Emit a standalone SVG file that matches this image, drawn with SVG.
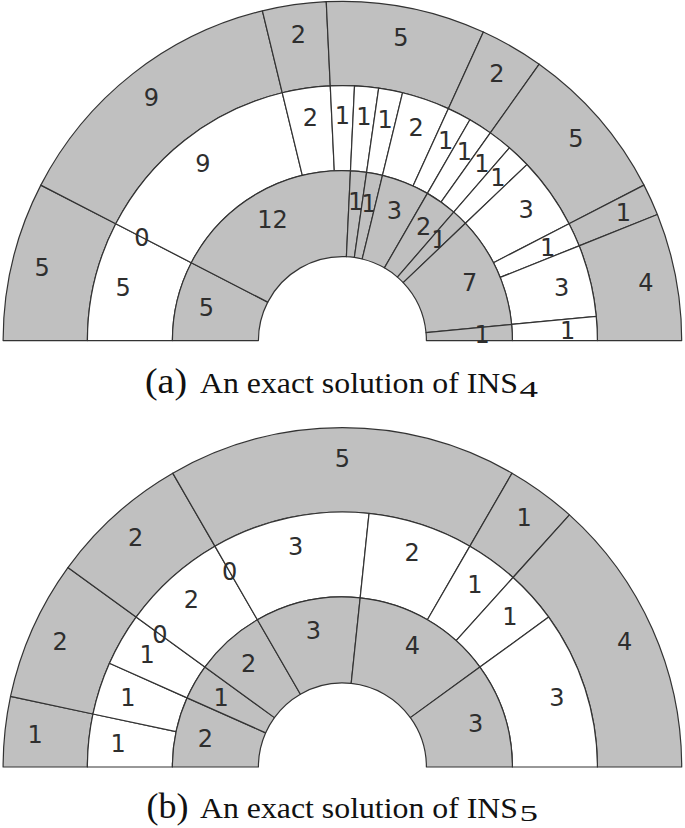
<svg xmlns="http://www.w3.org/2000/svg" width="685" height="828" viewBox="0 0 685 828">
<style>
.g{fill:#c0c0c0;stroke:#333;stroke-width:1.2;stroke-linejoin:round}
.w{fill:#fff;stroke:#333;stroke-width:1.2;stroke-linejoin:round}
.t{font-family:"DejaVu Sans",sans-serif;font-size:24px;fill:#2e2e2e;text-anchor:middle}
.cap{font-family:"Liberation Serif","Times New Roman",serif;fill:#111}
</style>
<rect width="685" height="828" fill="#fff"/>
<g id="diagram-a">
<g id="a-outer">
<g id="a-o1"><path class="g" d="M87.4,340.6 L3.1,340.6 A339.3,339.3 0 0 1 40.82,185.12 L115.75,223.75 A255,255 0 0 0 87.4,340.6Z"/><text class="t" y="8.7" transform="translate(342.4 340.6) rotate(13.636) translate(-309 0) rotate(-13.636)">5</text></g>
<g id="a-o2"><path class="g" d="M115.75,223.75 L40.82,185.12 A339.3,339.3 0 0 1 262.41,10.86 L282.28,92.79 A255,255 0 0 0 115.75,223.75Z"/><text class="t" y="8.7" transform="translate(342.4 340.6) rotate(51.818) translate(-309 0) rotate(-51.818)">9</text></g>
<g id="a-o3"><path class="g" d="M282.28,92.79 L262.41,10.86 A339.3,339.3 0 0 1 326.26,1.68 L330.27,85.89 A255,255 0 0 0 282.28,92.79Z"/><text class="t" y="8.7" transform="translate(342.4 340.6) rotate(81.818) translate(-309 0) rotate(-81.818)">2</text></g>
<g id="a-o4"><path class="g" d="M330.27,85.89 L326.26,1.68 A339.3,339.3 0 0 1 483.35,31.96 L448.33,108.64 A255,255 0 0 0 330.27,85.89Z"/><text class="t" y="8.7" transform="translate(342.4 340.6) rotate(100.909) translate(-309 0) rotate(-100.909)">5</text></g>
<g id="a-o5"><path class="g" d="M448.33,108.64 L483.35,31.96 A339.3,339.3 0 0 1 539.21,64.21 L490.32,132.88 A255,255 0 0 0 448.33,108.64Z"/><text class="t" y="8.7" transform="translate(342.4 340.6) rotate(120) translate(-309 0) rotate(-120)">2</text></g>
<g id="a-o6"><path class="g" d="M490.32,132.88 L539.21,64.21 A339.3,339.3 0 0 1 643.98,185.12 L569.05,223.75 A255,255 0 0 0 490.32,132.88Z"/><text class="t" y="8.7" transform="translate(342.4 340.6) rotate(139.091) translate(-309 0) rotate(-139.091)">5</text></g>
<g id="a-o7"><path class="g" d="M569.05,223.75 L643.98,185.12 A339.3,339.3 0 0 1 657.40,214.50 L579.13,245.83 A255,255 0 0 0 569.05,223.75Z"/><text class="t" y="8.7" transform="translate(342.4 340.6) rotate(155.455) translate(-309 0) rotate(-155.455)">1</text></g>
<g id="a-o8"><path class="g" d="M579.13,245.83 L657.40,214.50 A339.3,339.3 0 0 1 681.7,340.6 L597.4,340.6 A255,255 0 0 0 579.13,245.83Z"/><text class="t" y="8.7" transform="translate(342.4 340.6) rotate(169.091) translate(-309 0) rotate(-169.091)">4</text></g>
</g>
<g id="a-middle">
<g id="a-m1"><path class="w" d="M172.4,340.6 L87.4,340.6 A255,255 0 0 1 115.75,223.75 L191.30,262.70 A170,170 0 0 0 172.4,340.6Z"/><text class="t" y="8.7" transform="translate(342.4 340.6) rotate(13.636) translate(-225.5 0) rotate(-13.636)">5</text></g>
<g id="a-m3"><path class="w" d="M191.30,262.70 L115.75,223.75 A255,255 0 0 1 282.28,92.79 L302.32,175.39 A170,170 0 0 0 191.30,262.70Z"/><text class="t" y="8.7" transform="translate(342.4 340.6) rotate(51.818) translate(-225.5 0) rotate(-51.818)">9</text></g>
<g id="a-m4"><path class="w" d="M302.32,175.39 L282.28,92.79 A255,255 0 0 1 330.27,85.89 L334.31,170.79 A170,170 0 0 0 302.32,175.39Z"/><text class="t" y="8.7" transform="translate(342.4 340.6) rotate(81.818) translate(-225.5 0) rotate(-81.818)">2</text></g>
<g id="a-m5"><path class="w" d="M334.31,170.79 L330.27,85.89 A255,255 0 0 1 354.53,85.89 L350.49,170.79 A170,170 0 0 0 334.31,170.79Z"/><text class="t" y="8.7" transform="translate(342.4 340.6) rotate(90) translate(-225.5 0) rotate(-90)">1</text></g>
<g id="a-m6"><path class="w" d="M350.49,170.79 L354.53,85.89 A255,255 0 0 1 378.69,88.20 L366.59,172.33 A170,170 0 0 0 350.49,170.79Z"/><text class="t" y="8.7" transform="translate(342.4 340.6) rotate(95.455) translate(-225.5 0) rotate(-95.455)">1</text></g>
<g id="a-m7"><path class="w" d="M366.59,172.33 L378.69,88.20 A255,255 0 0 1 402.52,92.79 L382.48,175.39 A170,170 0 0 0 366.59,172.33Z"/><text class="t" y="8.7" transform="translate(342.4 340.6) rotate(100.909) translate(-225.5 0) rotate(-100.909)">1</text></g>
<g id="a-m8"><path class="w" d="M382.48,175.39 L402.52,92.79 A255,255 0 0 1 448.33,108.64 L413.02,185.96 A170,170 0 0 0 382.48,175.39Z"/><text class="t" y="8.7" transform="translate(342.4 340.6) rotate(109.091) translate(-225.5 0) rotate(-109.091)">2</text></g>
<g id="a-m9"><path class="w" d="M413.02,185.96 L448.33,108.64 A255,255 0 0 1 469.90,119.76 L427.40,193.37 A170,170 0 0 0 413.02,185.96Z"/><text class="t" y="8.7" transform="translate(342.4 340.6) rotate(117.273) translate(-225.5 0) rotate(-117.273)">1</text></g>
<g id="a-m10"><path class="w" d="M427.40,193.37 L469.90,119.76 A255,255 0 0 1 490.32,132.88 L441.01,202.12 A170,170 0 0 0 427.40,193.37Z"/><text class="t" y="8.7" transform="translate(342.4 340.6) rotate(122.727) translate(-225.5 0) rotate(-122.727)">1</text></g>
<g id="a-m11"><path class="w" d="M441.01,202.12 L490.32,132.88 A255,255 0 0 1 509.39,147.88 L453.73,212.12 A170,170 0 0 0 441.01,202.12Z"/><text class="t" y="8.7" transform="translate(342.4 340.6) rotate(128.182) translate(-225.5 0) rotate(-128.182)">1</text></g>
<g id="a-m12"><path class="w" d="M453.73,212.12 L509.39,147.88 A255,255 0 0 1 526.95,164.63 L465.43,223.29 A170,170 0 0 0 453.73,212.12Z"/><text class="t" y="8.7" transform="translate(342.4 340.6) rotate(133.636) translate(-225.5 0) rotate(-133.636)">1</text></g>
<g id="a-m13"><path class="w" d="M465.43,223.29 L526.95,164.63 A255,255 0 0 1 569.05,223.75 L493.50,262.70 A170,170 0 0 0 465.43,223.29Z"/><text class="t" y="8.7" transform="translate(342.4 340.6) rotate(144.545) translate(-225.5 0) rotate(-144.545)">3</text></g>
<g id="a-m14"><path class="w" d="M493.50,262.70 L569.05,223.75 A255,255 0 0 1 579.13,245.83 L500.22,277.42 A170,170 0 0 0 493.50,262.70Z"/><text class="t" y="8.7" transform="translate(342.4 340.6) rotate(155.455) translate(-225.5 0) rotate(-155.455)">1</text></g>
<g id="a-m15"><path class="w" d="M500.22,277.42 L579.13,245.83 A255,255 0 0 1 596.24,316.36 L511.63,324.44 A170,170 0 0 0 500.22,277.42Z"/><text class="t" y="8.7" transform="translate(342.4 340.6) rotate(166.364) translate(-225.5 0) rotate(-166.364)">3</text></g>
<g id="a-m16"><path class="w" d="M511.63,324.44 L596.24,316.36 A255,255 0 0 1 597.4,340.6 L512.4,340.6 A170,170 0 0 0 511.63,324.44Z"/><text class="t" y="8.7" transform="translate(342.4 340.6) rotate(177.273) translate(-225.5 0) rotate(-177.273)">1</text></g>
</g>
<g id="a-inner">
<g id="a-i1"><path class="g" d="M258.4,340.6 L172.4,340.6 A170,170 0 0 1 191.30,262.70 L267.74,302.11 A84,84 0 0 0 258.4,340.6Z"/><text class="t" y="8.7" transform="translate(342.4 340.6) rotate(13.636) translate(-140 0) rotate(-13.636)">5</text></g>
<g id="a-i2"><path class="g" d="M267.74,302.11 L191.30,262.70 A170,170 0 0 1 350.49,170.79 L346.40,256.70 A84,84 0 0 0 267.74,302.11Z"/><text class="t" y="8.7" transform="translate(342.4 340.6) rotate(60) translate(-140 0) rotate(-60)">12</text></g>
<g id="a-i3"><path class="g" d="M346.40,256.70 L350.49,170.79 A170,170 0 0 1 366.59,172.33 L354.35,257.46 A84,84 0 0 0 346.40,256.70Z"/><text class="t" y="8.7" transform="translate(342.4 340.6) rotate(95.455) translate(-140 0) rotate(-95.455)">1</text></g>
<g id="a-i4"><path class="g" d="M354.35,257.46 L366.59,172.33 A170,170 0 0 1 382.48,175.39 L362.20,258.97 A84,84 0 0 0 354.35,257.46Z"/><text class="t" y="8.7" transform="translate(342.4 340.6) rotate(100.909) translate(-140 0) rotate(-100.909)">1</text></g>
<g id="a-i5"><path class="g" d="M362.20,258.97 L382.48,175.39 A170,170 0 0 1 427.40,193.37 L384.40,267.85 A84,84 0 0 0 362.20,258.97Z"/><text class="t" y="8.7" transform="translate(342.4 340.6) rotate(111.818) translate(-140 0) rotate(-111.818)">3</text></g>
<g id="a-i6"><path class="g" d="M384.40,267.85 L427.40,193.37 A170,170 0 0 1 453.73,212.12 L397.41,277.12 A84,84 0 0 0 384.40,267.85Z"/><text class="t" y="8.7" transform="translate(342.4 340.6) rotate(125.455) translate(-140 0) rotate(-125.455)">2</text></g>
<g id="a-i7"><path class="g" d="M397.41,277.12 L453.73,212.12 A170,170 0 0 1 465.43,223.29 L403.19,282.63 A84,84 0 0 0 397.41,277.12Z"/><text class="t" y="8.7" transform="translate(342.4 340.6) rotate(133.636) translate(-140 0) rotate(-133.636)">1</text></g>
<g id="a-i8"><path class="g" d="M403.19,282.63 L465.43,223.29 A170,170 0 0 1 511.63,324.44 L426.02,332.61 A84,84 0 0 0 403.19,282.63Z"/><text class="t" y="8.7" transform="translate(342.4 340.6) rotate(155.455) translate(-140 0) rotate(-155.455)">7</text></g>
<g id="a-i9"><path class="g" d="M426.02,332.61 L511.63,324.44 A170,170 0 0 1 512.4,340.6 L426.4,340.6 A84,84 0 0 0 426.02,332.61Z"/><text class="t" y="8.7" transform="translate(342.4 340.6) rotate(177.273) translate(-140 0) rotate(-177.273)">1</text></g>
</g>
<g id="a-m2"><text class="t" y="8.7" transform="translate(342.4 340.6) rotate(27.273) translate(-225.5 0) rotate(-27.273)">0</text></g>
</g>
<g id="diagram-b" transform="translate(0 1)">
<g id="b-outer">
<g id="b-o1"><path class="g" d="M87.4,766 L3.1,766 A339.3,339.3 0 0 1 10.52,695.46 L92.97,712.98 A255,255 0 0 0 87.4,766Z"/><text class="t" y="8.7" transform="translate(342.4 766) rotate(6) translate(-309 0) rotate(-6)">1</text></g>
<g id="b-o2"><path class="g" d="M92.97,712.98 L10.52,695.46 A339.3,339.3 0 0 1 67.90,566.56 L136.10,616.11 A255,255 0 0 0 92.97,712.98Z"/><text class="t" y="8.7" transform="translate(342.4 766) rotate(24) translate(-309 0) rotate(-24)">2</text></g>
<g id="b-o3"><path class="g" d="M136.10,616.11 L67.90,566.56 A339.3,339.3 0 0 1 172.75,472.16 L214.90,545.16 A255,255 0 0 0 136.10,616.11Z"/><text class="t" y="8.7" transform="translate(342.4 766) rotate(48) translate(-309 0) rotate(-48)">2</text></g>
<g id="b-o4"><path class="g" d="M214.90,545.16 L172.75,472.16 A339.3,339.3 0 0 1 512.05,472.16 L469.90,545.16 A255,255 0 0 0 214.90,545.16Z"/><text class="t" y="8.7" transform="translate(342.4 766) rotate(90) translate(-309 0) rotate(-90)">5</text></g>
<g id="b-o5"><path class="g" d="M469.90,545.16 L512.05,472.16 A339.3,339.3 0 0 1 569.44,513.85 L513.03,576.50 A255,255 0 0 0 469.90,545.16Z"/><text class="t" y="8.7" transform="translate(342.4 766) rotate(126) translate(-309 0) rotate(-126)">1</text></g>
<g id="b-o6"><path class="g" d="M513.03,576.50 L569.44,513.85 A339.3,339.3 0 0 1 681.7,766 L597.4,766 A255,255 0 0 0 513.03,576.50Z"/><text class="t" y="8.7" transform="translate(342.4 766) rotate(156) translate(-309 0) rotate(-156)">4</text></g>
</g>
<g id="b-middle">
<g id="b-m1"><path class="w" d="M172.4,766 L87.4,766 A255,255 0 0 1 92.97,712.98 L176.11,730.65 A170,170 0 0 0 172.4,766Z"/><text class="t" y="8.7" transform="translate(342.4 766) rotate(6) translate(-225.5 0) rotate(-6)">1</text></g>
<g id="b-m2"><path class="w" d="M176.11,730.65 L92.97,712.98 A255,255 0 0 1 109.45,662.28 L187.10,696.85 A170,170 0 0 0 176.11,730.65Z"/><text class="t" y="8.7" transform="translate(342.4 766) rotate(18) translate(-225.5 0) rotate(-18)">1</text></g>
<g id="b-m3"><path class="w" d="M187.10,696.85 L109.45,662.28 A255,255 0 0 1 136.10,616.11 L204.87,666.08 A170,170 0 0 0 187.10,696.85Z"/><text class="t" y="8.7" transform="translate(342.4 766) rotate(30) translate(-225.5 0) rotate(-30)">1</text></g>
<g id="b-m5"><path class="w" d="M204.87,666.08 L136.10,616.11 A255,255 0 0 1 214.90,545.16 L257.40,618.78 A170,170 0 0 0 204.87,666.08Z"/><text class="t" y="8.7" transform="translate(342.4 766) rotate(48) translate(-225.5 0) rotate(-48)">2</text></g>
<g id="b-m7"><path class="w" d="M257.40,618.78 L214.90,545.16 A255,255 0 0 1 369.05,512.40 L360.17,596.93 A170,170 0 0 0 257.40,618.78Z"/><text class="t" y="8.7" transform="translate(342.4 766) rotate(78) translate(-225.5 0) rotate(-78)">3</text></g>
<g id="b-m8"><path class="w" d="M360.17,596.93 L369.05,512.40 A255,255 0 0 1 469.90,545.16 L427.40,618.78 A170,170 0 0 0 360.17,596.93Z"/><text class="t" y="8.7" transform="translate(342.4 766) rotate(108) translate(-225.5 0) rotate(-108)">2</text></g>
<g id="b-m9"><path class="w" d="M427.40,618.78 L469.90,545.16 A255,255 0 0 1 513.03,576.50 L456.15,639.67 A170,170 0 0 0 427.40,618.78Z"/><text class="t" y="8.7" transform="translate(342.4 766) rotate(126) translate(-225.5 0) rotate(-126)">1</text></g>
<g id="b-m10"><path class="w" d="M456.15,639.67 L513.03,576.50 A255,255 0 0 1 548.70,616.11 L479.93,666.08 A170,170 0 0 0 456.15,639.67Z"/><text class="t" y="8.7" transform="translate(342.4 766) rotate(138) translate(-225.5 0) rotate(-138)">1</text></g>
<g id="b-m11"><path class="w" d="M479.93,666.08 L548.70,616.11 A255,255 0 0 1 597.4,766 L512.4,766 A170,170 0 0 0 479.93,666.08Z"/><text class="t" y="8.7" transform="translate(342.4 766) rotate(162) translate(-225.5 0) rotate(-162)">3</text></g>
</g>
<g id="b-inner">
<g id="b-i1"><path class="g" d="M258.4,766 L172.4,766 A170,170 0 0 1 187.10,696.85 L265.66,731.83 A84,84 0 0 0 258.4,766Z"/><text class="t" y="8.7" transform="translate(342.4 766) rotate(12) translate(-140 0) rotate(-12)">2</text></g>
<g id="b-i2"><path class="g" d="M265.66,731.83 L187.10,696.85 A170,170 0 0 1 204.87,666.08 L274.44,716.63 A84,84 0 0 0 265.66,731.83Z"/><text class="t" y="8.7" transform="translate(342.4 766) rotate(30) translate(-140 0) rotate(-30)">1</text></g>
<g id="b-i3"><path class="g" d="M274.44,716.63 L204.87,666.08 A170,170 0 0 1 257.40,618.78 L300.40,693.25 A84,84 0 0 0 274.44,716.63Z"/><text class="t" y="8.7" transform="translate(342.4 766) rotate(48) translate(-140 0) rotate(-48)">2</text></g>
<g id="b-i4"><path class="g" d="M300.40,693.25 L257.40,618.78 A170,170 0 0 1 360.17,596.93 L351.18,682.46 A84,84 0 0 0 300.40,693.25Z"/><text class="t" y="8.7" transform="translate(342.4 766) rotate(78) translate(-140 0) rotate(-78)">3</text></g>
<g id="b-i5"><path class="g" d="M351.18,682.46 L360.17,596.93 A170,170 0 0 1 479.93,666.08 L410.36,716.63 A84,84 0 0 0 351.18,682.46Z"/><text class="t" y="8.7" transform="translate(342.4 766) rotate(120) translate(-140 0) rotate(-120)">4</text></g>
<g id="b-i6"><path class="g" d="M410.36,716.63 L479.93,666.08 A170,170 0 0 1 512.4,766 L426.4,766 A84,84 0 0 0 410.36,716.63Z"/><text class="t" y="8.7" transform="translate(342.4 766) rotate(162) translate(-140 0) rotate(-162)">3</text></g>
</g>
<g id="b-m4"><text class="t" y="8.7" transform="translate(342.4 766) rotate(36) translate(-225.5 0) rotate(-36)">0</text></g>
<g id="b-m6"><text class="t" y="8.7" transform="translate(342.4 766) rotate(60) translate(-225.5 0) rotate(-60)">0</text></g>
</g>
<g id="caption-a">
<text class="cap" x="145" y="393.3" font-size="36" textLength="42" lengthAdjust="spacingAndGlyphs">(a)</text>
<text class="cap" x="200" y="393.3" font-size="29" textLength="318" lengthAdjust="spacingAndGlyphs">An exact solution of INS</text>
<text class="cap" x="519.5" y="397" font-size="24" textLength="18.5" lengthAdjust="spacingAndGlyphs">4</text>
</g>
<g id="caption-b">
<text class="cap" x="146.5" y="817.7" font-size="36" textLength="42" lengthAdjust="spacingAndGlyphs">(b)</text>
<text class="cap" x="200" y="817.7" font-size="29" textLength="318" lengthAdjust="spacingAndGlyphs">An exact solution of INS</text>
<text class="cap" x="519.5" y="821.4" font-size="24" textLength="18.5" lengthAdjust="spacingAndGlyphs">5</text>
</g>
</svg>
